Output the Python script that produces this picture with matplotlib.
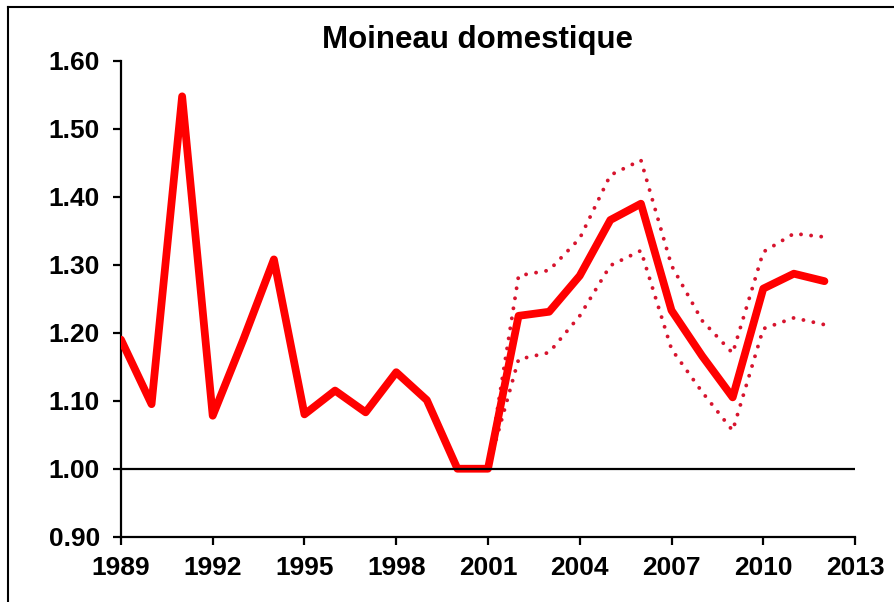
import matplotlib
matplotlib.use('Agg')
import matplotlib.pyplot as plt
from matplotlib.lines import Line2D

# ---------- 数据 ----------
years = list(range(1989, 2013))
index_vals = [1.19, 1.095, 1.548, 1.078, 1.19, 1.308, 1.080, 1.115, 1.083, 1.142,
              1.101, 1.00, 1.00, 1.225, 1.231, 1.284, 1.366, 1.390, 1.233, 1.166,
              1.105, 1.265, 1.287, 1.276]

ci_years = list(range(2001, 2013))
ci_upper = [1.00, 1.284, 1.292, 1.339, 1.432, 1.454, 1.299, 1.218, 1.170, 1.319, 1.346, 1.341]
ci_lower = [1.00, 1.161, 1.171, 1.225, 1.299, 1.321, 1.176, 1.113, 1.056, 1.206, 1.222, 1.212]

title = 'Moineau domestique'
xticks = list(range(1989, 2014, 3))
yticks = [0.90, 1.00, 1.10, 1.20, 1.30, 1.40, 1.50, 1.60]

plt.rcParams['font.family'] = ['Liberation Sans', 'DejaVu Sans']
plt.rcParams['font.weight'] = 'bold'

fig = plt.figure(figsize=(8.94, 6.02), dpi=100)
ax = fig.add_axes([0.1353, 0.1085, 0.8211, 0.7902])

dot_color = '#D7142E'
ax.plot(ci_years, ci_upper, color=dot_color, linewidth=2.8,
        linestyle=(0, (0.01, 2.6)), dash_capstyle='round', zorder=2)
ax.plot(ci_years, ci_lower, color=dot_color, linewidth=2.8,
        linestyle=(0, (0.01, 2.6)), dash_capstyle='round', zorder=2)
ax.plot(years, index_vals, color='#FF0000', linewidth=5.6,
        solid_joinstyle='round', solid_capstyle='round', zorder=3)
ax.axhline(1.0, color='black', linewidth=1.6, zorder=4)

ax.set_xlim(1989, 2013)
ax.set_ylim(0.90, 1.60)
ax.set_xticks(xticks)
ax.set_yticks(yticks)
ax.set_yticklabels([f'{v:.2f}' for v in yticks])
ax.tick_params(axis='both', direction='out', length=6, width=1.6,
               labelsize=19, colors='black')
ax.tick_params(axis='y', pad=9)
ax.tick_params(axis='x', pad=8)
for lab in ax.get_xticklabels() + ax.get_yticklabels():
    lab.set_fontweight('bold')

for side in ['top', 'right']:
    ax.spines[side].set_visible(False)
for side in ['left', 'bottom']:
    ax.spines[side].set_linewidth(1.6)

fig.text(0.534, 0.934, title, ha='center', va='center',
         fontsize=22.5, fontweight='bold')

# 外框（左、上）
fig.add_artist(Line2D([8 / 894, 8 / 894], [0, 1 - 7 / 602], color='black',
                      linewidth=1.5, transform=fig.transFigure))
fig.add_artist(Line2D([8 / 894, 1], [1 - 7 / 602, 1 - 7 / 602], color='black',
                      linewidth=1.5, transform=fig.transFigure))

fig.savefig('out.png', dpi=100)
